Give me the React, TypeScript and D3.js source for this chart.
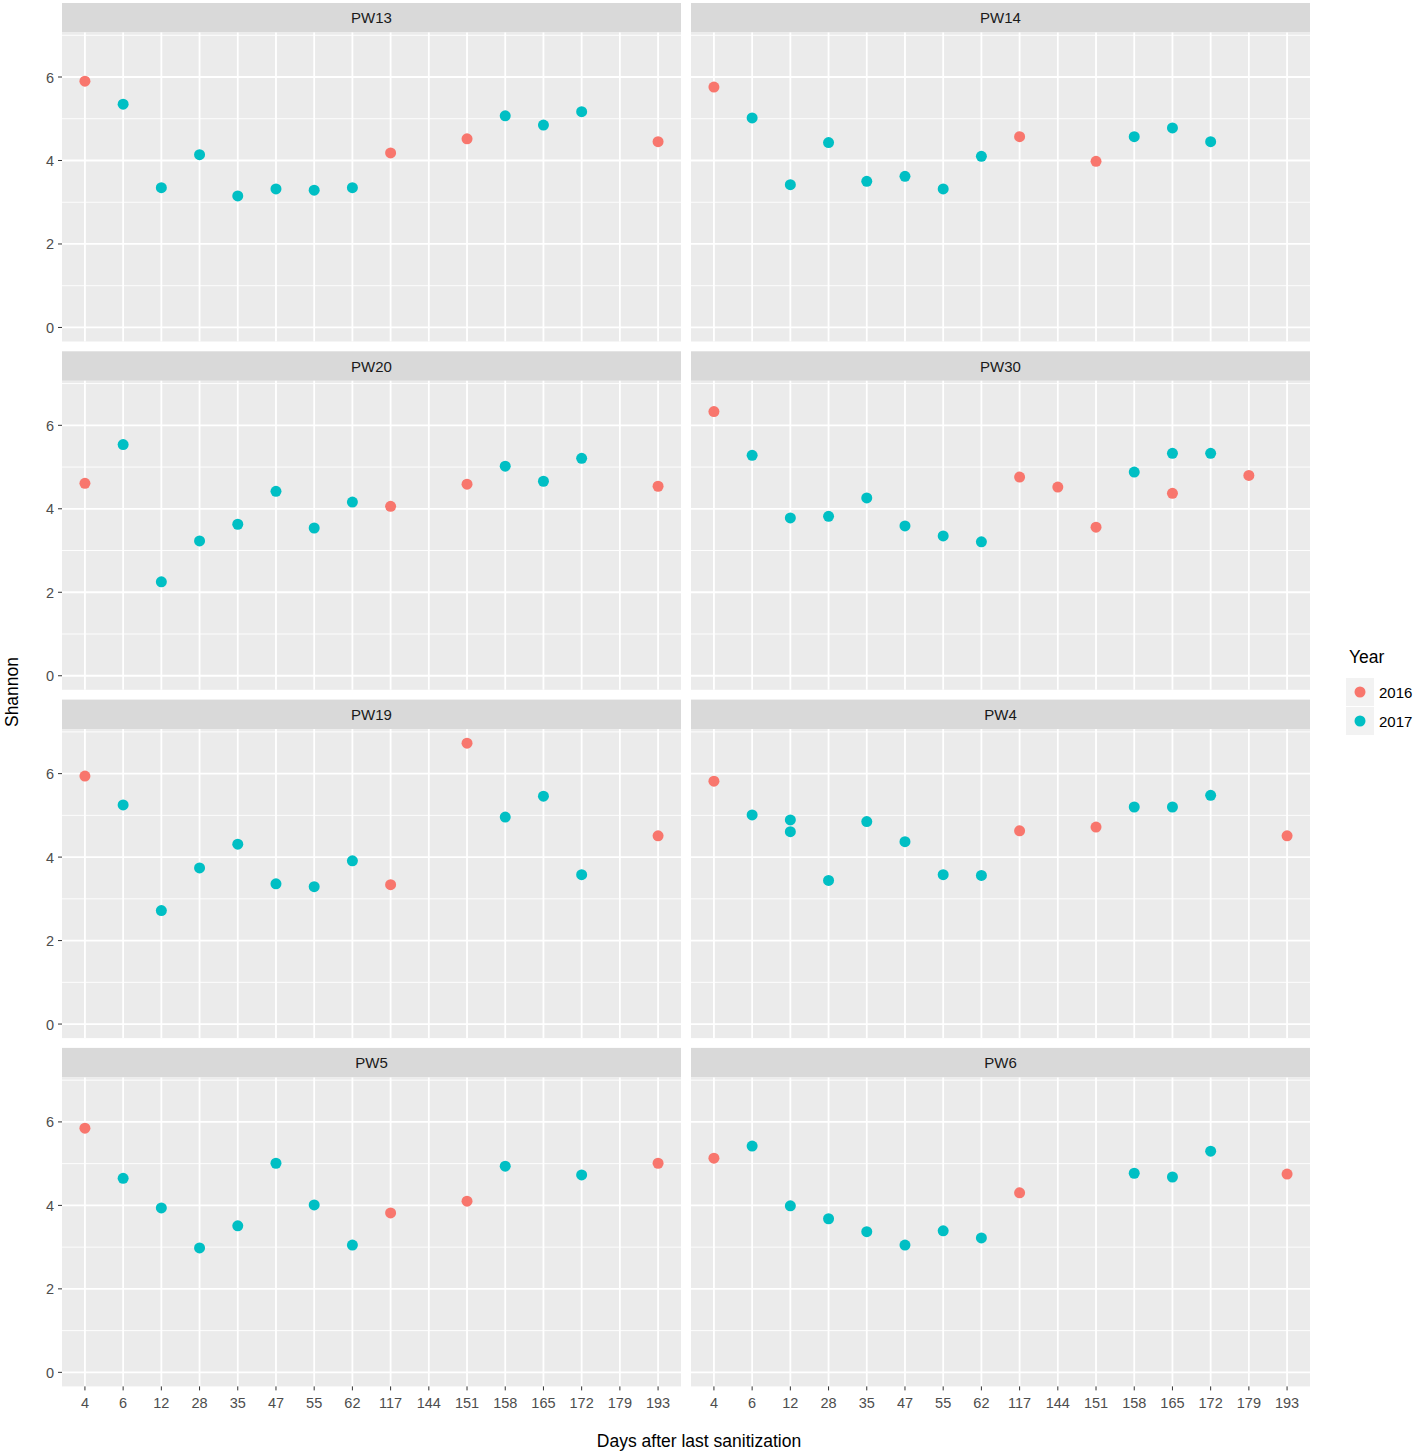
import React from "react";
import * as d3 from "d3";

const days = ["4", "6", "12", "28", "35", "47", "55", "62", "117", "144", "151", "158", "165", "172", "179", "193"];
const yTicks = [0, 2, 4, 6];
const yMinor = [1, 3, 5, 7];
const years = [2016, 2017];
const yearColors = ["#F8766D", "#00BFC4"];
const panelNames = ["PW13", "PW14", "PW20", "PW30", "PW19", "PW4", "PW5", "PW6"];

type Pt = [string, number, number];

const PW13: Pt[] = [
  ["4", 2016, 5.9], ["6", 2017, 5.35], ["12", 2017, 3.35], ["28", 2017, 4.14], ["35", 2017, 3.15],
  ["47", 2017, 3.32], ["55", 2017, 3.29], ["62", 2017, 3.35], ["117", 2016, 4.18], ["151", 2016, 4.52],
  ["158", 2017, 5.07], ["165", 2017, 4.85], ["172", 2017, 5.17], ["193", 2016, 4.45],
];
const PW14: Pt[] = [
  ["4", 2016, 5.76], ["6", 2017, 5.02], ["12", 2017, 3.42], ["28", 2017, 4.43], ["35", 2017, 3.5],
  ["47", 2017, 3.62], ["55", 2017, 3.32], ["62", 2017, 4.1], ["117", 2016, 4.57], ["151", 2016, 3.98],
  ["158", 2017, 4.57], ["165", 2017, 4.78], ["172", 2017, 4.45],
];
const PW20: Pt[] = [
  ["4", 2016, 4.61], ["6", 2017, 5.54], ["12", 2017, 2.25], ["28", 2017, 3.23], ["35", 2017, 3.63],
  ["47", 2017, 4.42], ["55", 2017, 3.54], ["62", 2017, 4.16], ["117", 2016, 4.06], ["151", 2016, 4.59],
  ["158", 2017, 5.02], ["165", 2017, 4.66], ["172", 2017, 5.21], ["193", 2016, 4.54],
];
const PW30: Pt[] = [
  ["4", 2016, 6.33], ["6", 2017, 5.28], ["12", 2017, 3.78], ["28", 2017, 3.82], ["35", 2017, 4.26],
  ["47", 2017, 3.59], ["55", 2017, 3.35], ["62", 2017, 3.21], ["117", 2016, 4.76], ["144", 2016, 4.52],
  ["151", 2016, 3.56], ["158", 2017, 4.88], ["165", 2017, 5.33], ["165", 2016, 4.37], ["172", 2017, 5.33],
  ["179", 2016, 4.8],
];
const PW19: Pt[] = [
  ["4", 2016, 5.94], ["6", 2017, 5.25], ["12", 2017, 2.72], ["28", 2017, 3.74], ["35", 2017, 4.31],
  ["47", 2017, 3.36], ["55", 2017, 3.29], ["62", 2017, 3.91], ["117", 2016, 3.34], ["151", 2016, 6.73],
  ["158", 2017, 4.96], ["165", 2017, 5.46], ["172", 2017, 3.58], ["193", 2016, 4.51],
];
const PW4: Pt[] = [
  ["4", 2016, 5.82], ["6", 2017, 5.01], ["12", 2017, 4.89], ["12", 2017, 4.61], ["28", 2017, 3.44],
  ["35", 2017, 4.85], ["47", 2017, 4.37], ["55", 2017, 3.58], ["62", 2017, 3.56], ["117", 2016, 4.63],
  ["151", 2016, 4.72], ["158", 2017, 5.2], ["165", 2017, 5.2], ["172", 2017, 5.48], ["193", 2016, 4.51],
];
const PW5: Pt[] = [
  ["4", 2016, 5.85], ["6", 2017, 4.65], ["12", 2017, 3.94], ["28", 2017, 2.98], ["35", 2017, 3.51],
  ["47", 2017, 5.01], ["55", 2017, 4.01], ["62", 2017, 3.05], ["117", 2016, 3.82], ["151", 2016, 4.1],
  ["158", 2017, 4.94], ["172", 2017, 4.73], ["193", 2016, 5.01],
];
const PW6: Pt[] = [
  ["4", 2016, 5.13], ["6", 2017, 5.42], ["12", 2017, 3.99], ["28", 2017, 3.68], ["35", 2017, 3.37],
  ["47", 2017, 3.05], ["55", 2017, 3.39], ["62", 2017, 3.22], ["117", 2016, 4.3], ["158", 2017, 4.77],
  ["165", 2017, 4.68], ["172", 2017, 5.3], ["193", 2016, 4.75],
];
const panelData = [PW13, PW14, PW20, PW30, PW19, PW4, PW5, PW6];

const FONT = "'Liberation Sans', Arial, sans-serif";

export default function App() {
  const colX = [62, 691];
  const panelW = 619;
  const rowTop0 = 3;
  const rowPitch = 348.3;
  const stripH = 29.5;
  const panelH = 309;

  const allVals = panelData.flat().map((p) => p[2]);
  const yMax = d3.max(allVals) as number;
  const pad = (yMax - 0) * 0.05;

  const x = d3.scalePoint<string>().domain(days).range([0, panelW]).padding(0.6);
  const y = d3.scaleLinear().domain([0 - pad, yMax + pad]).range([panelH, 0]);
  const color = d3.scaleOrdinal<number, string>().domain(years).range(yearColors);

  return (
    <svg width={1418} height={1454} style={{ position: "absolute", left: 0, top: 0, background: "#fff" }}>
      {panelNames.map((name, i) => {
        const col = i % 2;
        const row = Math.floor(i / 2);
        const px = colX[col];
        const stripTop = rowTop0 + row * rowPitch;
        const py = stripTop + stripH;
        return (
          <g key={name}>
            <rect x={px} y={stripTop} width={panelW} height={stripH} fill="#D9D9D9" />
            <text x={px + panelW / 2} y={stripTop + stripH / 2 + 5.5} textAnchor="middle" fontFamily={FONT} fontSize={15} fill="#1A1A1A">
              {name}
            </text>
            <g transform={`translate(${px},${py})`}>
              <rect x={0} y={0} width={panelW} height={panelH} fill="#EBEBEB" />
              {yMinor.map((t) => (
                <line key={"m" + t} x1={0} x2={panelW} y1={y(t)} y2={y(t)} stroke="#fff" strokeWidth={0.9} />
              ))}
              {yTicks.map((t) => (
                <line key={"M" + t} x1={0} x2={panelW} y1={y(t)} y2={y(t)} stroke="#fff" strokeWidth={1.8} />
              ))}
              {days.map((d) => (
                <line key={"v" + d} x1={x(d)} x2={x(d)} y1={0} y2={panelH} stroke="#fff" strokeWidth={1.8} />
              ))}
              {panelData[i].map((p, j) => (
                <circle key={j} cx={x(p[0])} cy={y(p[2])} r={5.5} fill={color(p[1])} />
              ))}
              {col === 0 &&
                yTicks.map((t) => (
                  <g key={"yt" + t}>
                    <line x1={-4} x2={0} y1={y(t)} y2={y(t)} stroke="#333" strokeWidth={1} />
                    <text x={-8} y={y(t) + 5.5} textAnchor="end" fontFamily={FONT} fontSize={14.5} fill="#4D4D4D">
                      {t}
                    </text>
                  </g>
                ))}
              {row === 3 &&
                days.map((d) => (
                  <g key={"xt" + d}>
                    <line x1={x(d)} x2={x(d)} y1={panelH} y2={panelH + 4} stroke="#333" strokeWidth={1} />
                    <text x={x(d)} y={panelH + 22} textAnchor="middle" fontFamily={FONT} fontSize={14.5} fill="#4D4D4D">
                      {d}
                    </text>
                  </g>
                ))}
            </g>
          </g>
        );
      })}
      <text x={699} y={1447} textAnchor="middle" fontFamily={FONT} fontSize={17.5} fill="#000">
        Days after last sanitization
      </text>
      <text transform="translate(18,692) rotate(-90)" textAnchor="middle" fontFamily={FONT} fontSize={17.5} fill="#000">
        Shannon
      </text>
      <g>
        <text x={1349} y={663} fontFamily={FONT} fontSize={17.5} fill="#000">
          Year
        </text>
        {years.map((yr, k) => (
          <g key={yr} transform={`translate(1346,${678 + k * 29})`}>
            <rect x={0} y={0} width={28} height={28} fill="#F2F2F2" />
            <circle cx={14} cy={14} r={5.5} fill={color(yr)} />
            <text x={33} y={19.5} fontFamily={FONT} fontSize={15} fill="#000">
              {yr}
            </text>
          </g>
        ))}
      </g>
    </svg>
  );
}
